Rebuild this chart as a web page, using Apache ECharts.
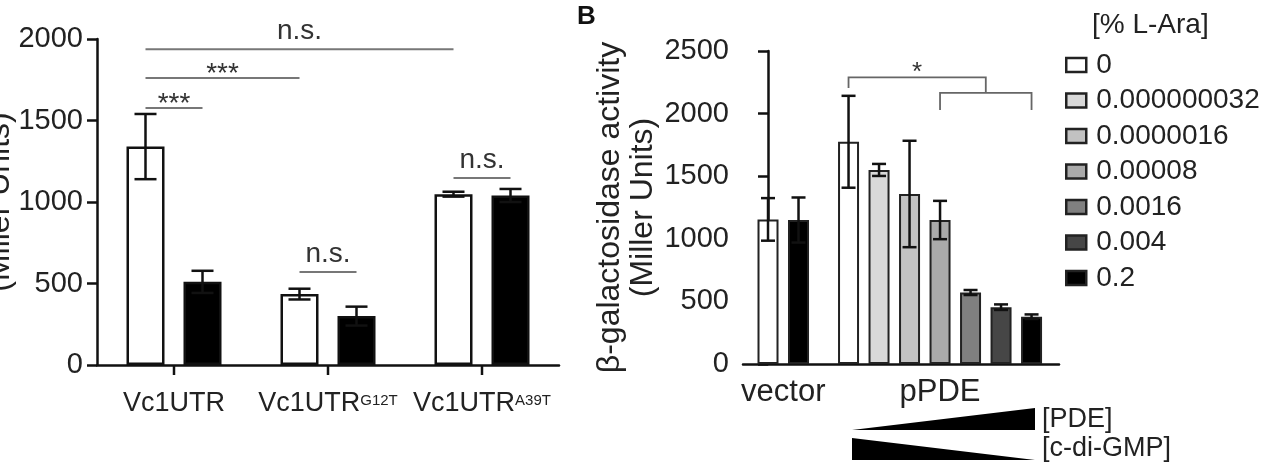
<!DOCTYPE html>
<html>
<head>
<meta charset="utf-8">
<script src="https://cdn.jsdelivr.net/npm/echarts@6/dist/echarts.min.js"></script>
<style>
  html, body { margin: 0; padding: 0; background: #fff; }
  #chart { width: 1261px; height: 462px; }
</style>
</head>
<body>
<div id="chart"></div>
<script>
// ---- panel A ----
var categoriesA = ['Vc1UTR', 'Vc1UTR^G12T', 'Vc1UTR^A39T'];
var whiteA = [1340, 435, 1048];
var whiteErrA = [200, 33, 15];
var blackA = [510, 300, 1040];
var blackErrA = [68, 58, 40];
// [from category, from bar (0 white, 1 black), to category, to bar, height]
var sigA = [[0, 0, 2, 0, 1937], [0, 0, 1, 0, 1761], [0, 0, 0, 1, 1577], [1, 0, 1, 1, 571], [2, 0, 2, 1, 1147]];
var sigTextA = ['n.s.', '***', '***', 'n.s.', 'n.s.'];

// ---- panel B ----
var groupsB = ['vector', 'pPDE'];
var araLevels = ['0', '0.000000032', '0.0000016', '0.00008', '0.0016', '0.004', '0.2'];
var vectorVals = [1155, 1150];   // 0 and 0.2 % L-Ara
var vectorErr = [170, 180];
var ppdeVals = [1775, 1550, 1358, 1150, 571, 454, 378];
var ppdeErr = [367, 48, 425, 153, 20, 22, 18];
// brackets in pPDE bar index units: [from, to, height, left leg end, right leg end]
var sigB = [[0, 4.5, 2289, 2204, 2166], [3, 6, 2166, 2028, 2028]];
var sigTextB = ['*', ''];

var araColors = ['#ffffff', '#d9d9d9', '#c2c2c2', '#aaaaaa', '#808080', '#464646', '#000000'];
var FONT = 'Liberation Sans, Arial, sans-serif';
var BAR_A = 38, GAP_A = 19;        // px
var BAR_B = 21;
var PDE_START = 2.64;              // slot where the pPDE group begins
var GRID_A = { left: 97, right: 702, top: 39, bottom: 97 };

var chart = echarts.init(document.getElementById('chart'));

function slotOf(group, i) {
  return group === 0 ? i : PDE_START + i;
}

function plain(v) { return String(v); }

function errBar(api, x, v, e, half) {
  var top = api.coord([x, v + e]);
  var bot = api.coord([x, v - e]);
  var st = { stroke: '#111', lineWidth: 2.5 };
  return [
    { type: 'line', shape: { x1: top[0], y1: top[1], x2: bot[0], y2: bot[1] }, style: st },
    { type: 'line', shape: { x1: top[0] - half, y1: top[1], x2: top[0] + half, y2: top[1] }, style: st },
    { type: 'line', shape: { x1: bot[0] - half, y1: bot[1], x2: bot[0] + half, y2: bot[1] }, style: st }
  ];
}

var errDataA = whiteA.map(function (v, i) { return [i, v, whiteErrA[i], -1]; })
  .concat(blackA.map(function (v, i) { return [i, v, blackErrA[i], 1]; }));

var errDataB = vectorVals.map(function (v, i) { return [slotOf(0, i), v, vectorErr[i]]; })
  .concat(ppdeVals.map(function (v, i) { return [slotOf(1, i), v, ppdeErr[i]]; }));

var seriesB = araLevels.map(function (level, k) {
  var data = [[slotOf(1, k), ppdeVals[k]]];
  if (k === 0) data.unshift([slotOf(0, 0), vectorVals[0]]);
  if (k === araLevels.length - 1) data.unshift([slotOf(0, 1), vectorVals[1]]);
  return {
    type: 'bar', name: level, xAxisIndex: 1, yAxisIndex: 1,
    barWidth: BAR_B, barGap: '-100%',
    itemStyle: { color: araColors[k], borderColor: '#222', borderWidth: 2 },
    data: data
  };
});

function yAxisFor(grid, max, gap) {
  return {
    type: 'value', gridIndex: grid, min: 0, max: max, interval: 500,
    name: 'β-galactosidase activity\n(Miller Units)', nameLocation: 'middle', nameGap: gap,
    nameMoveOverlap: false,
    nameTextStyle: { fontSize: 32, lineHeight: 33, color: '#222' },
    axisLine: { show: true, lineStyle: { color: '#111', width: 2.5 } },
    axisTick: { show: true, length: 10, lineStyle: { width: 2.5 } },
    axisLabel: { fontSize: 29, color: '#222', margin: 14, formatter: plain },
    splitLine: { show: false }
  };
}

// category tick marks under panel A's x axis (band centres), drawn as thin filled rects
var bandA = (1261 - GRID_A.left - GRID_A.right) / categoriesA.length;
var tickGraphics = categoriesA.map(function (c, i) {
  var x = GRID_A.left + bandA * (i + 0.5);
  var y = 462 - GRID_A.bottom;
  return {
    type: 'rect', z: 100, silent: true,
    shape: { x: x - 1.25, y: y, width: 2.5, height: 10 },
    style: { fill: '#111' }
  };
});

var option = {
  animation: false,
  textStyle: { fontFamily: FONT },
  title: {
    text: '[% L-Ara]', left: 1092, top: 11, padding: 0,
    textStyle: { fontSize: 28, fontWeight: 'normal', color: '#222', fontFamily: FONT }
  },
  legend: {
    data: araLevels, orient: 'vertical', left: 1060, top: 46,
    icon: 'rect', itemWidth: 20, itemHeight: 14, itemGap: 7.5,
    selectedMode: false,
    itemStyle: { borderColor: '#222', borderWidth: 2.5 },
    textStyle: { fontSize: 28, lineHeight: 28, color: '#222', padding: [0, 0, 0, 5] }
  },
  grid: [
    { left: GRID_A.left, right: GRID_A.right, top: GRID_A.top, bottom: GRID_A.bottom, outerBoundsMode: 'none', containLabel: false },
    { left: 743, right: 202, top: 51, bottom: 98, outerBoundsMode: 'none', containLabel: false }
  ],
  xAxis: [
    {
      type: 'category', gridIndex: 0, data: categoriesA, position: 'bottom',
      axisLine: { show: true, onZero: false, lineStyle: { color: '#111', width: 2.5 } },
      axisTick: { show: false },
      axisLabel: {
        interval: 0, margin: 25, color: '#222',
        formatter: function (v) {
          var p = v.split('^');
          return '{b|' + p[0] + '}' + (p[1] ? '{s|' + p[1] + '}' : '');
        },
        rich: {
          b: { fontSize: 27, color: '#222' },
          s: { fontSize: 15, color: '#222', verticalAlign: 'top', padding: [3, 0, 0, 0] }
        }
      }
    },
    {
      type: 'value', gridIndex: 1, min: -0.82, max: 9.54,
      axisLine: { show: true, onZero: false, lineStyle: { color: '#111', width: 2.5 } },
      axisTick: { show: false }, axisLabel: { show: false }, splitLine: { show: false }
    }
  ],
  yAxis: [yAxisFor(0, 2000, 80), yAxisFor(1, 2500, 83)],
  graphic: [
    { type: 'text', left: 577, top: 4, style: { text: 'B', font: 'bold 26px ' + FONT, fill: '#111' } },
    { type: 'polygon', shape: { points: [[852, 430], [1035, 408], [1035, 430]] }, style: { fill: '#000' } },
    { type: 'polygon', shape: { points: [[852, 438], [852, 460], [1035, 460]] }, style: { fill: '#000' } },
    { type: 'text', left: 1042, top: 406, style: { text: '[PDE]', font: '27px ' + FONT, fill: '#222' } },
    { type: 'text', left: 1042, top: 435, style: { text: '[c-di-GMP]', font: '27px ' + FONT, fill: '#222' } }
  ].concat(tickGraphics),
  series: [
    {
      type: 'bar', name: 'white', xAxisIndex: 0, yAxisIndex: 0, data: whiteA,
      barWidth: BAR_A, barGap: (GAP_A / BAR_A * 100) + '%',
      itemStyle: { color: '#fff', borderColor: '#111', borderWidth: 2.5 }
    },
    {
      type: 'bar', name: 'black', xAxisIndex: 0, yAxisIndex: 0, data: blackA,
      barWidth: BAR_A, barGap: (GAP_A / BAR_A * 100) + '%',
      itemStyle: { color: '#000', borderColor: '#111', borderWidth: 2.5 }
    },
    {
      type: 'custom', name: 'errA', xAxisIndex: 0, yAxisIndex: 0, data: errDataA,
      encode: { x: 0, y: 1 }, z: 5,
      renderItem: function (params, api) {
        var half = (BAR_A + GAP_A) / 2;
        var lines = errBar(api, api.value(0), api.value(1), api.value(2), 11);
        var dx = api.value(3) * half;
        lines.forEach(function (l) { l.shape.x1 += dx; l.shape.x2 += dx; });
        return { type: 'group', children: lines };
      }
    },
    {
      type: 'custom', name: 'sigA', xAxisIndex: 0, yAxisIndex: 0, data: sigA,
      encode: { x: 0, y: 4 }, z: 5,
      renderItem: function (params, api) {
        var s = sigA[params.dataIndex];
        var half = (BAR_A + GAP_A) / 2;
        var p1 = api.coord([s[0], s[4]]);
        var p2 = api.coord([s[2], s[4]]);
        p1[0] += s[1] ? half : -half;
        p2[0] += s[3] ? half : -half;
        var txt = sigTextA[params.dataIndex];
        var star = txt.indexOf('*') >= 0;
        return {
          type: 'group', children: [
            { type: 'line', shape: { x1: p1[0], y1: p1[1], x2: p2[0], y2: p2[1] }, style: { stroke: '#777', lineWidth: 2 } },
            {
              type: 'text', x: (p1[0] + p2[0]) / 2, y: p1[1] + (star ? 10 : -4),
              style: { text: txt, font: '28px ' + FONT, align: 'center', verticalAlign: 'bottom', fill: '#333' }
            }
          ]
        };
      }
    }
  ].concat(seriesB).concat([
    {
      type: 'custom', name: 'errB', xAxisIndex: 1, yAxisIndex: 1, data: errDataB,
      encode: { x: 0, y: 1 }, z: 5,
      renderItem: function (params, api) {
        return { type: 'group', children: errBar(api, api.value(0), api.value(1), api.value(2), 7) };
      }
    },
    {
      type: 'custom', name: 'sigB', xAxisIndex: 1, yAxisIndex: 1, data: sigB,
      encode: { x: 0, y: 2 }, z: 5,
      renderItem: function (params, api) {
        var s = sigB[params.dataIndex];
        var a = api.coord([slotOf(1, s[0]), s[2]]);
        var b = api.coord([slotOf(1, s[1]), s[2]]);
        var la = api.coord([slotOf(1, s[0]), s[3]]);
        var lb = api.coord([slotOf(1, s[1]), s[4]]);
        var st = { stroke: '#666', lineWidth: 1.8, fill: null };
        return {
          type: 'group', children: [
            { type: 'polyline', shape: { points: [[la[0], la[1]], a, b, [lb[0], lb[1]]] }, style: st },
            {
              type: 'text', x: (a[0] + b[0]) / 2, y: a[1] + 8,
              style: { text: sigTextB[params.dataIndex], font: '26px ' + FONT, align: 'center', verticalAlign: 'bottom', fill: '#333' }
            }
          ]
        };
      }
    },
    {
      type: 'custom', name: 'groups', xAxisIndex: 1, yAxisIndex: 1,
      data: groupsB.map(function (g, i) {
        var n = i === 0 ? vectorVals.length : ppdeVals.length;
        return [(slotOf(i, 0) + slotOf(i, n - 1)) / 2, 0];
      }),
      encode: { x: 0, y: 1 },
      renderItem: function (params, api) {
        var p = api.coord([api.value(0), 0]);
        return {
          type: 'text', x: p[0], y: p[1] + 28,
          style: { text: groupsB[params.dataIndex], font: '31px ' + FONT, align: 'center', verticalAlign: 'middle', fill: '#222' }
        };
      }
    }
  ])
};

chart.setOption(option);
</script>
</body>
</html>
